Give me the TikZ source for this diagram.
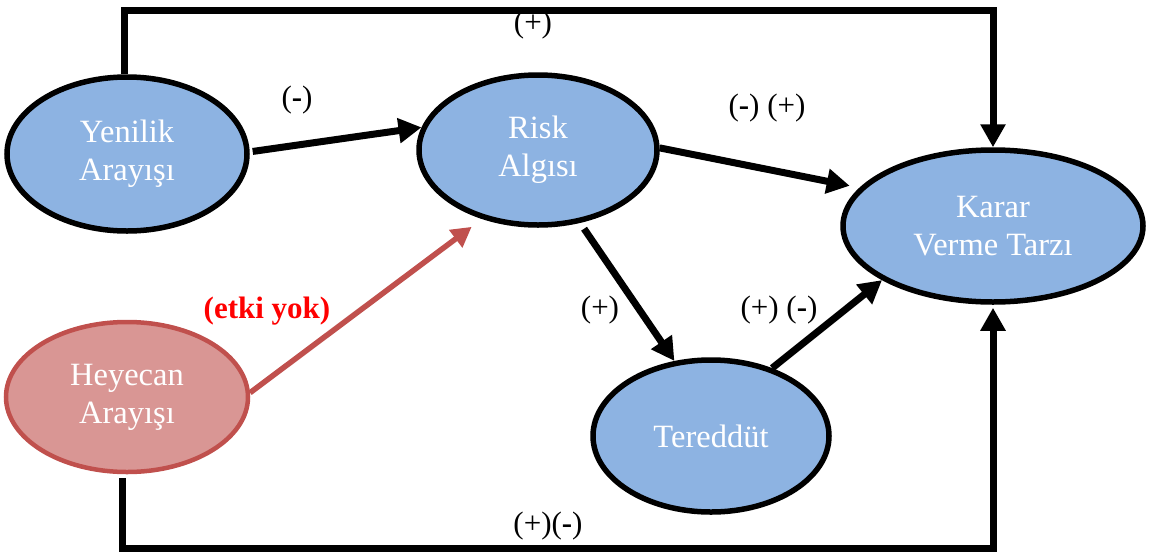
\documentclass[tikz,border=0pt]{standalone}
\usepackage{fontspec}
\setmainfont{Liberation Serif}
\usetikzlibrary{shapes.geometric,arrows.meta}

\definecolor{nodeblue}{RGB}{141,179,226}
\definecolor{nodered}{RGB}{217,150,148}
\definecolor{edgered}{RGB}{192,80,77}
\definecolor{labelred}{RGB}{255,0,0}

\tikzset{
  concept/.style={ellipse, draw=black, line width=5.5pt, fill=nodeblue,
    text=white, inner sep=0pt, align=center,
    font=\fontsize{32.5}{38}\selectfont},
  hotconcept/.style={concept, draw=edgered, line width=4.5pt, fill=nodered},
  link/.style={line width=7pt, draw=black,
    -{Triangle[length=23pt,width=24pt]}},
  loop/.style={link, line cap=butt, line join=miter},
  redlink/.style={line width=5.5pt, draw=edgered,
    -{Triangle[length=20pt,width=21pt]}},
  sign/.style={inner sep=0pt, font=\fontsize{31}{36}\selectfont},
}

\begin{document}
\begin{tikzpicture}[x=1pt,y=-1pt]
\useasboundingbox (0,0) rectangle (1149,555);

% concepts
\node[concept, minimum width=240pt, minimum height=154pt] (yen) at (127,154) {Yenilik\\Arayışı};
\node[concept, minimum width=238pt, minimum height=150pt] (risk) at (538,150) {Risk\\Algısı};
\node[concept, minimum width=300pt, minimum height=152pt] (kar) at (993,226) {Karar\\Verme Tarzı};
\node[hotconcept, minimum width=242pt, minimum height=150pt] (hey) at (127,397) {Heyecan\\Arayışı};
\node[concept, minimum width=236pt, minimum height=152pt] (ter) at (711,436) {Tereddüt};

% loop corners
\coordinate (topleft) at (124,10);
\coordinate (botleft) at (122,548);
\coordinate (heystart) at (122,478);

% direct paths
\draw[link, shorten <=3pt] (yen.1) -- (risk.169);
\draw[link, shorten >=10pt] (risk.1) -- (kar.164);
\draw[link, shorten <=7pt] (risk.-60) -- (ter.116);
\draw[link] (ter.48) -- (kar.206);
\draw[redlink, shorten >=13pt] (hey.2) -- (risk.231);

% outer loops
\draw[loop] ([xshift=-3pt]yen.north) |- (topleft) -| (kar.north);
\draw[loop, shorten >=3pt] (heystart) |- (botleft) -| (kar.south);

% signs
\node[sign] (s1) at (533,25) {(+)};
\node[sign] (s2) at (297,100) {(\textbf{-})};
\node[sign] (s3) at (767,108) {(\textbf{-}) (+)};
\node[sign] (s4) at (600,310) {(+)};
\node[sign] (s5) at (779,310) {(+) (\textbf{-})};
\node[sign] (s6) at (548,526) {(+)(\textbf{-})};
\node[sign, text=labelred, font=\fontsize{31}{36}\selectfont\bfseries] (s7) at (267,311) {(etki yok)};
\end{tikzpicture}
\end{document}
